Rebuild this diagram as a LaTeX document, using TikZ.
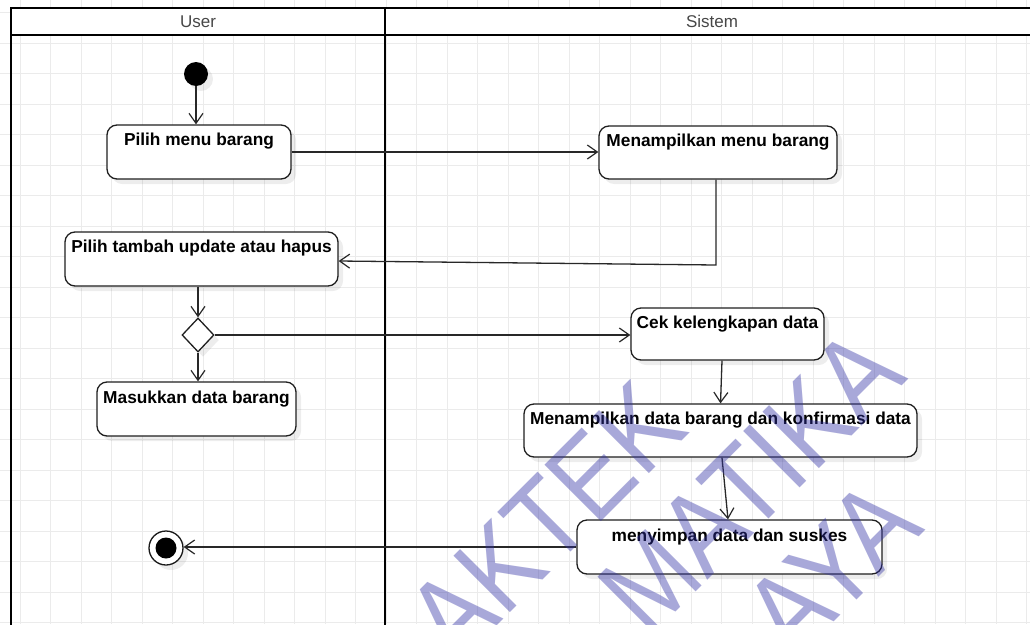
\documentclass[tikz,border=0pt]{standalone}
\usepackage{fontspec}
\setmainfont{Liberation Sans}
\usetikzlibrary{arrows.meta,shapes.geometric,shadows,calc}
\definecolor{wmblue}{RGB}{50,50,165}
\definecolor{edgegray}{RGB}{40,40,40}
\begin{document}
\begin{tikzpicture}[x=1pt,y=-1pt,
  gridline/.style={draw=black!8, line width=0.9pt},
  lane/.style={draw=black, line width=2.2pt},
  lanetitle/.style={font=\fontsize{17}{20}\selectfont, text=black!72, inner sep=0pt},
  softshadow/.style={drop shadow={shadow xshift=5pt, shadow yshift=-5pt, fill=black, opacity=0.07}},
  actbox/.style={draw=black!88, line width=1.3pt, rounded corners=10pt, fill=white, softshadow, inner sep=0pt},
  acttext/.style={font=\bfseries\fontsize{17.3}{20}\selectfont, text=black, inner sep=0pt},
  flow/.style={draw=edgegray, line width=1.3pt, -{Straight Barb[length=10pt,width=14pt,line width=1.2pt]}},
  startnode/.style={circle, fill=black, minimum size=24pt, inner sep=0pt, softshadow},
  endouter/.style={circle, draw=black!90, line width=1.3pt, fill=white, minimum size=34pt, inner sep=0pt, softshadow},
  endinner/.style={circle, fill=black, minimum size=21pt, inner sep=0pt},
  decision/.style={diamond, draw=black!88, line width=1.3pt, fill=white, minimum width=32pt, minimum height=34pt, inner sep=0pt, softshadow},
  wm/.style={font=\fontsize{116}{116}\selectfont, text=wmblue, text opacity=0.42, rotate=45, xscale=0.87, inner sep=0pt, anchor=base east}
]
\useasboundingbox (0,0) rectangle (1030,624);
\clip (0,0) rectangle (1030,624);
\fill[white] (0,0) rectangle (1030,624);
% grid
\foreach \i in {0,...,33} \draw[gridline] ({20+30.5*\i},0) -- ({20+30.5*\i},624);
\foreach \j in {0,...,20} \draw[gridline] (0,{12.8+30.5*\j}) -- (1030,{12.8+30.5*\j});
% swimlanes
\fill[white] (11,8) rectangle (1040,35);
\draw[lane] (1040,8) -- (11,8) -- (11,630);
\draw[lane] (11,35) -- (1040,35);
\draw[lane] (385,8) -- (385,630);
\node[lanetitle] (lu) at (198,21.5) {User};
\node[lanetitle] (ls) at (712,21.5) {Sistem};
% nodes
\node[startnode] (st) at (196,74) {};
\node[actbox, minimum width=184pt, minimum height=54pt] (a1) at (199,152) {};
\node[acttext] (a1t) at ($(a1.north)+(0,17)$) {Pilih menu barang};
\node[actbox, minimum width=238pt, minimum height=53pt] (a2) at (718,152.5) {};
\node[acttext] (a2t) at ($(a2.north)+(0,16.5)$) {Menampilkan menu barang};
\node[actbox, minimum width=273pt, minimum height=54pt] (a3) at (201.5,259) {};
\node[acttext] (a3t) at ($(a3.north)+(0,17)$) {Pilih tambah update atau hapus};
\node[decision] (d1) at (198,335) {};
\node[actbox, minimum width=199pt, minimum height=54pt] (a4) at (196.5,409) {};
\node[acttext] (a4t) at ($(a4.north)+(0,18)$) {Masukkan data barang};
\node[actbox, minimum width=193pt, minimum height=52pt] (a5) at (727.5,334) {};
\node[acttext] (a5t) at ($(a5.north)+(0,16.5)$) {Cek kelengkapan data};
\node[actbox, minimum width=393pt, minimum height=53pt] (a6) at (720.5,430.5) {};
\node[acttext] (a6t) at ($(a6.north)+(0,17)$) {Menampilkan data barang dan konfirmasi data};
\node[actbox, minimum width=305pt, minimum height=54pt] (a7) at (729.5,547) {};
\node[acttext] (a7t) at ($(a7.north)+(0,18)$) {menyimpan data dan suskes};
\node[endouter] (en) at (166,548) {};
\node[endinner] (eni) at (en.center) {};
% connectors
\draw[flow] (st.south) -- (st.south |- a1.north);
\draw[flow] (a1.east) -- (a1.east -| a2.west);
\coordinate (c1) at (716,265);
\draw[flow] (a2.south -| c1) -- (c1) -- ([yshift=-2pt]a3.east);
\draw[flow] (a3.south -| d1.north) -- (d1.north);
\draw[flow] (d1.south) -- (d1.south |- a4.north);
\draw[flow] (d1.east) -- (d1.east -| a5.west);
\draw[flow] ([xshift=-5.5pt]a5.south) -- (a6.north);
\draw[flow] ([xshift=1.5pt]a6.south) -- ([xshift=-1.5pt]a7.north);
\draw[flow] (a7.west) -- (a7.west -| en.east);
% watermark
\node[wm] (w1) at (691,432) {AKTEK};
\node[wm] (w2) at (909,379) {MATIKA};
\node[wm] (w3) at (926,530) {AYA};
\end{tikzpicture}
\end{document}
